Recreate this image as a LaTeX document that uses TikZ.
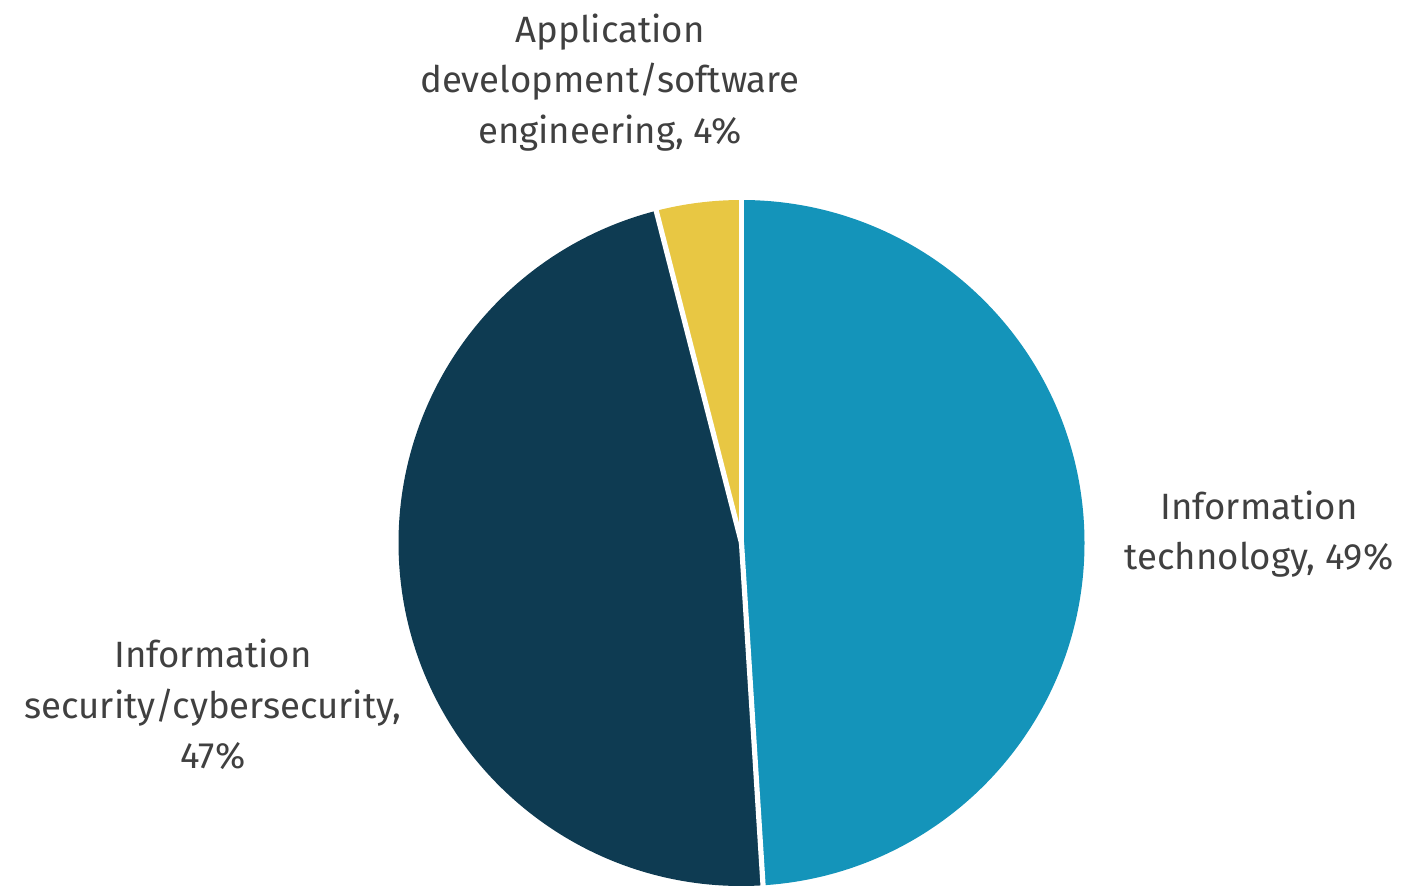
\documentclass[tikz,border=0pt]{standalone}
\usepackage{fontspec}
\usetikzlibrary{calc}
\setmainfont{Fira Sans}
\definecolor{itblue}{HTML}{1494BA}
\definecolor{isnavy}{HTML}{0E3B52}
\definecolor{appyellow}{HTML}{E8C743}
\definecolor{labelgray}{HTML}{404040}
\tikzset{
  slicelabel/.style={align=center, text=labelgray, inner sep=0pt,
    font=\fontsize{18.3pt}{25.3pt}\selectfont},
  sep/.style={draw=white, line width=2.6pt, line cap=round}
}
\begin{document}
\begin{tikzpicture}[x=0.5pt,y=-0.5pt]
\useasboundingbox (0,0) rectangle (1404,886);
\coordinate (c) at (741.5,543);
\def\R{343}
\fill[itblue] (c) -- ++(-90:\R) arc[start angle=-90, end angle=86.4, radius=\R] -- cycle;
\fill[isnavy] (c) -- ++(86.4:\R) arc[start angle=86.4, end angle=255.6, radius=\R] -- cycle;
\fill[appyellow] (c) -- ++(255.6:\R) arc[start angle=255.6, end angle=270, radius=\R] -- cycle;
\coordinate (e1) at ($(c)+(-90:\R+4)$);
\coordinate (e2) at ($(c)+(86.4:\R+4)$);
\coordinate (e3) at ($(c)+(255.6:\R+4)$);
\draw[sep] (c) -- (e1);
\draw[sep] (c) -- (e2);
\draw[sep] (c) -- (e3);
\node[slicelabel] (app) at (610,82.5) {Application\\development/software\\engineering, 4\%};
\node[slicelabel] (it) at (1259,534) {Information\\technology, 49\%};
\node[slicelabel] (is) at (213,704.5) {Information\\security/cybersecurity,\\47\%};
\end{tikzpicture}
\end{document}
